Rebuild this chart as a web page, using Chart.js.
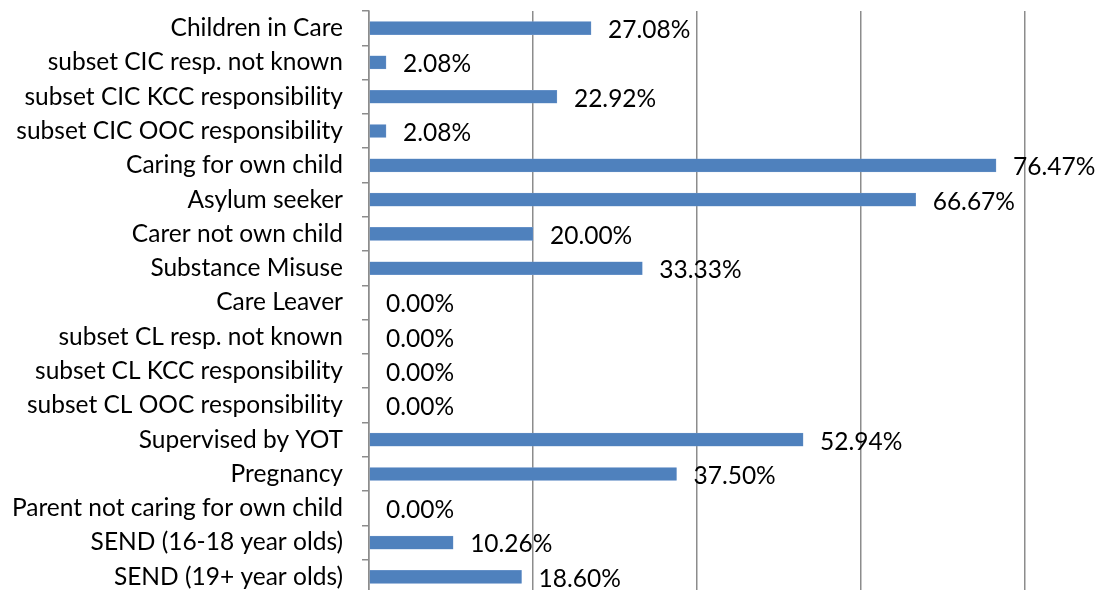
<!DOCTYPE html>
<html>
<head>
<meta charset="utf-8">
<script src="https://cdn.jsdelivr.net/npm/chart.js@4/dist/chart.umd.min.js"></script>
<style>
  html, body { margin: 0; padding: 0; background: #fff; overflow: hidden; }
  #wrap { position: relative; width: 1099px; height: 600px; }
</style>
</head>
<body>
<div id="wrap"><canvas id="chart"></canvas></div>
<script>
const categories = [
  "Children in Care",
  "subset CIC resp. not known",
  "subset CIC KCC responsibility",
  "subset CIC OOC responsibility",
  "Caring for own child",
  "Asylum seeker",
  "Carer not own child",
  "Substance Misuse",
  "Care Leaver",
  "subset CL resp. not known",
  "subset CL KCC responsibility",
  "subset CL OOC responsibility",
  "Supervised by YOT",
  "Pregnancy",
  "Parent not caring for own child",
  "SEND (16-18 year olds)",
  "SEND (19+ year olds)"
];
const percentages = [27.08, 2.08, 22.92, 2.08, 76.47, 66.67, 20.00, 33.33, 0, 0, 0, 0, 52.94, 37.50, 0, 10.26, 18.60];
const xTicks = [0, 20, 40, 60, 80];

const FONT = "Lato, 'Open Sans', sans-serif";
const FONT_SIZE = 24.5;
const GRID = "#8c8c8c";

// draws the value text just past the end of each bar
const valueLabels = {
  id: "valueLabels",
  afterDatasetsDraw(chart) {
    const ctx = chart.ctx;
    const meta = chart.getDatasetMeta(0);
    const xScale = chart.scales.x;
    ctx.save();
    ctx.font = FONT_SIZE + "px " + FONT;
    ctx.fillStyle = "#000";
    ctx.textAlign = "left";
    ctx.textBaseline = "middle";
    meta.data.forEach((bar, i) => {
      const v = percentages[i];
      const x = xScale.getPixelForValue(v) + 17;
      ctx.fillText(v.toFixed(2) + "%", x, bar.y + 2);
    });
    ctx.restore();
  }
};

new Chart(document.getElementById("chart"), {
  type: "bar",
  data: {
    labels: categories,
    datasets: [{
      data: percentages,
      backgroundColor: "#4f81bd",
      borderColor: "#7a9fd0",
      borderWidth: 0.5,
      barThickness: 13
    }]
  },
  options: {
    indexAxis: "y",
    responsive: true,
    maintainAspectRatio: false,
    animation: false,
    layout: { padding: { top: 11, right: 74, bottom: 6, left: 0 } },
    plugins: {
      legend: { display: false },
      tooltip: { enabled: false }
    },
    scales: {
      x: {
        min: 0,
        max: 80,
        afterBuildTicks: (scale) => { scale.ticks = xTicks.map(v => ({ value: v })); },
        ticks: { display: false },
        grid: { color: GRID, lineWidth: 1.5, drawTicks: false },
        border: { display: false }
      },
      y: {
        afterFit: (scale) => {
          scale.width = 369;
          scale.paddingTop = 0;
          scale.paddingBottom = 0;
        },
        ticks: {
          color: "#000",
          padding: 19,
          font: { family: FONT, size: FONT_SIZE },
          autoSkip: false
        },
        grid: { drawOnChartArea: false, drawTicks: true, tickLength: 7, color: GRID, lineWidth: 1.5 },
        border: { display: true, color: GRID, width: 1.5 }
      }
    }
  },
  plugins: [valueLabels]
});
</script>
</body>
</html>
